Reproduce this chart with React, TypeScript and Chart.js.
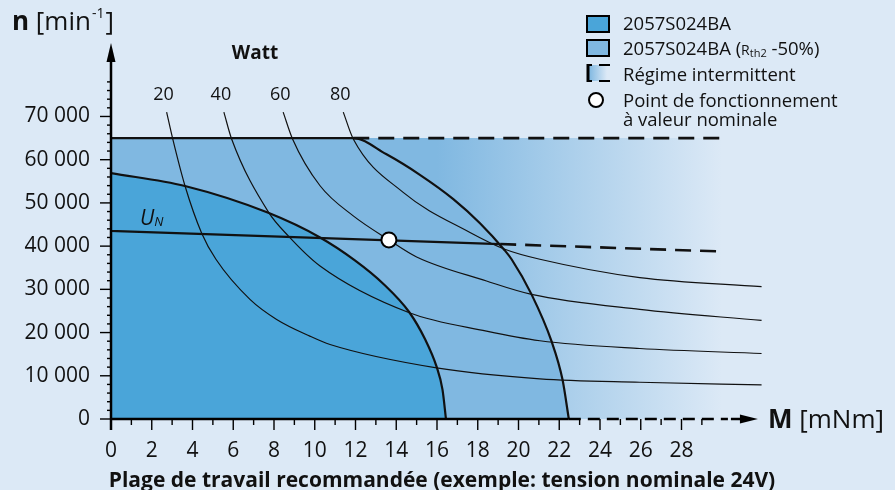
import React, { useEffect, useRef } from 'react';
import { Chart, registerables } from 'chart.js';

Chart.register(...registerables);

const BG = '#dce9f6';
const DARK = '#4aa5d9';
const MEDIUM = '#80b8e1';
const INK = '#111111';
const FONT = '"Open Sans", "Noto Sans", sans-serif';

// axis ticks
const xTickLabels = [0, 2, 4, 6, 8, 10, 12, 14, 16, 18, 20, 22, 24, 26, 28];
const yTickValues = [0, 10000, 20000, 30000, 40000, 50000, 60000, 70000];

// 2057S024BA (dark region)
const darkM = [0, 3.63, 7.72, 10.26, 11.97, 13.36, 14.64, 15.41, 15.98, 16.27, 16.44];
const darkN = [56900, 53900, 47700, 42000, 36700, 31300, 24700, 18500, 12100, 6800, 0];

// 2057S024BA (Rth2 -50%) (medium region)
const outerM = [0, 11.89, 13.5, 15.16, 16.8, 18.11, 19.33, 19.66, 20.64, 21.62, 22.16, 22.47];
const outerN = [65000, 65000, 61300, 56500, 50880, 45300, 39000, 36960, 28840, 18000, 9120, 0];

// intermittent operation (dashed limit)
const intermM = [11.89, 30];
const intermN = [65000, 65000];

// U_N line
const unSolidM = [0, 19.1];
const unSolidN = [43500, 40480];
const unDashM = [19.1, 30];
const unDashN = [40480, 38750];

// nominal operating point
const nominalM = [13.64];
const nominalN = [41440];

// constant power curves (Watt)
const wattLabels = ['20', '40', '60', '80'];
const watt20M = [2.73, 3.03, 3.63, 4.45, 5.15, 6.82, 8.13, 9.76, 10.75, 15.98, 21.05, 25.95, 31.93];
const watt20N = [71000, 64800, 53970, 43000, 36960, 27680, 23040, 19170, 17240, 11830, 9300, 8500, 7890];
const watt40M = [5.54, 5.92, 7.72, 8.7, 10.26, 14.64, 18.43, 21.05, 25.95, 31.93];
const watt40N = [71000, 64800, 47930, 42370, 35400, 24590, 20330, 18100, 16310, 15150];
const watt60M = [8.45, 8.91, 10.26, 11.89, 13.64, 15.0, 18.43, 20.64, 25.95, 31.93];
const watt60N = [71000, 64800, 53970, 47000, 41440, 37500, 31930, 28840, 25360, 22800];
const watt80M = [11.4, 11.89, 14.34, 17.62, 19.33, 21.05, 25.95, 31.93];
const watt80N = [71000, 64800, 52440, 43160, 39280, 36960, 32710, 30630];

// texts
const yAxisTitle = { bold: 'n', open: ' [min', sup: '-1', close: ']' };
const xAxisTitle = { bold: 'M', rest: ' [mNm]' };
const wattTitle = 'Watt';
const unLabel = { main: 'U', sub: 'N' };
const legendLabels = [
  '2057S024BA',
  '2057S024BA (',
  'Régime intermittent',
  'Point de fonctionnement',
  'à valeur nominale',
];
const caption = 'Plage de travail recommandée (exemple: tension nominale 24V)';

const pts = (m: number[], n: number[]) => m.map((x, i) => ({ x, y: n[i] }));

const curve = (m: number[], n: number[], extra: any = {}) => ({
  data: pts(m, n),
  borderColor: INK,
  borderWidth: 1.2,
  pointRadius: 0,
  fill: false,
  cubicInterpolationMode: 'monotone',
  ...extra,
});

const decorPlugin = {
  id: 'decor',
  beforeDraw(chart: any) {
    const { ctx, width, height } = chart;
    ctx.save();
    ctx.fillStyle = BG;
    ctx.fillRect(0, 0, width, height);
    ctx.restore();
  },
  afterDatasetsDraw(chart: any) {
    const { ctx, chartArea } = chart;
    const x = chart.scales.x;
    const y = chart.scales.y;
    const x0 = x.getPixelForValue(0);
    const y0 = y.getPixelForValue(0);
    ctx.save();
    ctx.strokeStyle = '#000';
    ctx.fillStyle = '#000';

    // Y axis line + arrow
    ctx.lineWidth = 2.5;
    ctx.beginPath();
    ctx.moveTo(x0, y0 + 11);
    ctx.lineTo(x0, chartArea.top + 14);
    ctx.stroke();
    ctx.beginPath();
    ctx.moveTo(x0, chartArea.top);
    ctx.lineTo(x0 - 4.5, chartArea.top + 19);
    ctx.lineTo(x0 + 4.5, chartArea.top + 19);
    ctx.closePath();
    ctx.fill();

    // Y ticks
    ctx.lineWidth = 1.4;
    for (let v = 0; v <= 78000; v += 2000) {
      const py = y.getPixelForValue(v);
      const major = v % 10000 === 0;
      ctx.beginPath();
      ctx.moveTo(x0 - (major ? 11 : 4), py);
      ctx.lineTo(x0, py);
      ctx.stroke();
    }

    // X axis: solid then dashed then arrow
    const xSolidEnd = x.getPixelForValue(outerM[outerM.length - 1]);
    const tip = x.getPixelForValue(31.75);
    ctx.lineWidth = 2.5;
    ctx.beginPath();
    ctx.moveTo(x0 - 1, y0);
    ctx.lineTo(xSolidEnd, y0);
    ctx.stroke();
    ctx.setLineDash([12, 7]);
    ctx.beginPath();
    ctx.moveTo(xSolidEnd, y0);
    ctx.lineTo(tip - 30, y0);
    ctx.stroke();
    ctx.setLineDash([]);
    ctx.beginPath();
    ctx.moveTo(tip - 27, y0);
    ctx.lineTo(tip - 14, y0);
    ctx.stroke();
    ctx.beginPath();
    ctx.moveTo(tip, y0);
    ctx.lineTo(tip - 18, y0 - 4.5);
    ctx.lineTo(tip - 18, y0 + 4.5);
    ctx.closePath();
    ctx.fill();

    // X ticks
    ctx.lineWidth = 1.4;
    for (let v = 0; v <= 29; v += 1) {
      const px = x.getPixelForValue(v);
      const major = v % 2 === 0;
      ctx.beginPath();
      ctx.moveTo(px, y0);
      ctx.lineTo(px, y0 + (major ? 11 : 6));
      ctx.stroke();
    }

    // Axis titles
    ctx.fillStyle = INK;
    ctx.textBaseline = 'alphabetic';
    ctx.textAlign = 'left';
    let cx = 12;
    ctx.font = `bold 26px ${FONT}`;
    ctx.fillText(yAxisTitle.bold, cx, 30);
    cx += ctx.measureText(yAxisTitle.bold).width;
    ctx.font = `26px ${FONT}`;
    ctx.fillText(yAxisTitle.open, cx, 30);
    cx += ctx.measureText(yAxisTitle.open).width + 1;
    ctx.font = `14px ${FONT}`;
    ctx.fillText(yAxisTitle.sup, cx, 18);
    cx += ctx.measureText(yAxisTitle.sup).width + 1;
    ctx.font = `26px ${FONT}`;
    ctx.fillText(yAxisTitle.close, cx, 30);

    cx = 768;
    ctx.font = `bold 26px ${FONT}`;
    ctx.fillText(xAxisTitle.bold, cx, y0 + 9);
    cx += ctx.measureText(xAxisTitle.bold).width;
    ctx.font = `26px ${FONT}`;
    ctx.fillText(xAxisTitle.rest, cx, y0 + 9);

    // Watt labels
    ctx.font = `bold 19px ${FONT}`;
    ctx.textAlign = 'center';
    ctx.fillText(wattTitle, 255, 59);
    ctx.font = `18px ${FONT}`;
    const tops = [watt20M[0], watt40M[0], watt60M[0], watt80M[0]];
    tops.forEach((m, i) => {
      ctx.fillText(wattLabels[i], x.getPixelForValue(m) - 3, y.getPixelForValue(71000) - 12);
    });

    // U_N
    ctx.textAlign = 'left';
    ctx.font = `italic 21px ${FONT}`;
    ctx.fillText(unLabel.main, 140, 225);
    const uw = ctx.measureText(unLabel.main).width;
    ctx.font = `italic 13px ${FONT}`;
    ctx.fillText(unLabel.sub, 140 + uw, 226);

    // Legend
    const lx = 587;
    ctx.lineWidth = 2;
    ctx.strokeStyle = '#000';
    ctx.fillStyle = DARK;
    ctx.fillRect(lx, 16, 22, 16);
    ctx.strokeRect(lx, 16, 22, 16);
    ctx.fillStyle = MEDIUM;
    ctx.fillRect(lx, 40, 22, 16);
    ctx.strokeRect(lx, 40, 22, 16);
    // intermittent icon
    const g = ctx.createLinearGradient(lx + 2, 0, lx + 20, 0);
    g.addColorStop(0, MEDIUM);
    g.addColorStop(1, BG);
    ctx.fillStyle = g;
    ctx.fillRect(lx + 1, 65, 21, 16);
    ctx.lineWidth = 3;
    ctx.beginPath();
    ctx.moveTo(lx + 1, 64);
    ctx.lineTo(lx + 1, 82);
    ctx.stroke();
    ctx.lineWidth = 2;
    ctx.beginPath();
    ctx.moveTo(lx, 65); ctx.lineTo(lx + 5, 65);
    ctx.moveTo(lx + 12, 65); ctx.lineTo(lx + 23, 65);
    ctx.moveTo(lx, 81); ctx.lineTo(lx + 5, 81);
    ctx.moveTo(lx + 12, 81); ctx.lineTo(lx + 23, 81);
    ctx.stroke();
    // circle icon
    ctx.fillStyle = '#fff';
    ctx.beginPath();
    ctx.arc(596, 100, 7, 0, Math.PI * 2);
    ctx.fill();
    ctx.stroke();

    ctx.fillStyle = INK;
    const tx = 623;
    ctx.font = `18.5px ${FONT}`;
    ctx.fillText(legendLabels[0], tx, 30);
    ctx.fillText(legendLabels[1], tx, 55);
    let lx2 = tx + ctx.measureText(legendLabels[1]).width;
    ctx.font = `14px ${FONT}`;
    ctx.fillText('R', lx2, 55);
    lx2 += ctx.measureText('R').width;
    ctx.font = `11px ${FONT}`;
    ctx.fillText('th2', lx2, 57);
    lx2 += ctx.measureText('th2').width;
    ctx.font = `18.5px ${FONT}`;
    ctx.fillText(' -50%)', lx2, 55);
    ctx.fillText(legendLabels[2], tx, 81);
    ctx.fillText(legendLabels[3], tx, 107);
    ctx.fillText(legendLabels[4], tx, 126);

    // caption
    ctx.textAlign = 'center';
    ctx.font = `bold 21px ${FONT}`;
    ctx.fillText(caption, 442, 487);

    ctx.restore();
  },
};

export default function App() {
  const ref = useRef<HTMLCanvasElement | null>(null);

  useEffect(() => {
    if (!ref.current) return;
    Chart.defaults.font.family = FONT;
    const chart = new Chart(ref.current, {
      type: 'line',
      data: {
        datasets: [
          { ...curve(nominalM, nominalN), showLine: false, pointRadius: 7.5, pointBackgroundColor: '#ffffff', pointBorderColor: '#000', pointBorderWidth: 2, order: 1 },
          { ...curve(unSolidM, unSolidN), borderWidth: 2.2, order: 2 },
          { ...curve(unDashM, unDashN), borderWidth: 2.6, borderDash: [16, 9], order: 2 },
          { ...curve(intermM, intermN), borderWidth: 2.6, borderDash: [16, 9], order: 2 },
          { ...curve(watt20M, watt20N), order: 4 },
          { ...curve(watt40M, watt40N), order: 4 },
          { ...curve(watt60M, watt60N), order: 4 },
          { ...curve(watt80M, watt80N), order: 4 },
          { ...curve(darkM, darkN), borderWidth: 2.2, fill: 'origin', backgroundColor: DARK, order: 6 },
          { ...curve(outerM, outerN), borderWidth: 2.2, fill: 'origin', backgroundColor: MEDIUM, order: 7 },
          {
            ...curve([0, intermM[1]], [intermN[0], intermN[1]]),
            borderWidth: 0,
            fill: 'origin',
            order: 8,
            backgroundColor: (c: any) => {
              const ch = c.chart;
              if (!ch.chartArea) return MEDIUM;
              const sx = ch.scales.x;
              const gr = ch.ctx.createLinearGradient(sx.getPixelForValue(16), 0, sx.getPixelForValue(30), 0);
              gr.addColorStop(0, MEDIUM);
              gr.addColorStop(1, BG);
              return gr;
            },
          },
        ],
      },
      options: {
        responsive: false,
        animation: false,
        devicePixelRatio: 1,
        layout: { padding: { top: 43, right: 132, left: 0, bottom: 0 } },
        plugins: { legend: { display: false }, tooltip: { enabled: false } },
        scales: {
          x: {
            type: 'linear',
            min: 0,
            max: 32,
            grid: { display: false, drawTicks: false },
            border: { display: false },
            afterFit: (s: any) => { s.height = 71; },
            afterBuildTicks: (s: any) => { s.ticks = xTickLabels.map((v) => ({ value: v })); },
            ticks: { padding: 19, color: INK, font: { size: 21, family: FONT }, maxRotation: 0, autoSkip: false },
          },
          y: {
            type: 'linear',
            min: 0,
            max: 87000,
            grid: { display: false, drawTicks: false },
            border: { display: false },
            afterFit: (s: any) => { s.width = 111; },
            afterBuildTicks: (s: any) => { s.ticks = yTickValues.map((v) => ({ value: v })); },
            ticks: {
              padding: 21,
              color: INK,
              font: { size: 21, family: FONT },
              callback: (v: any) => (v === 0 ? '0' : `${Math.round(v / 1000)} 000`),
            },
          },
        },
      },
      plugins: [decorPlugin],
    } as any);
    return () => chart.destroy();
  }, []);

  return (
    <div style={{ position: 'fixed', left: 0, top: 0, width: 895, height: 490, background: BG }}>
      <canvas ref={ref} width={895} height={490} style={{ display: 'block', width: 895, height: 490 }} />
    </div>
  );
}
